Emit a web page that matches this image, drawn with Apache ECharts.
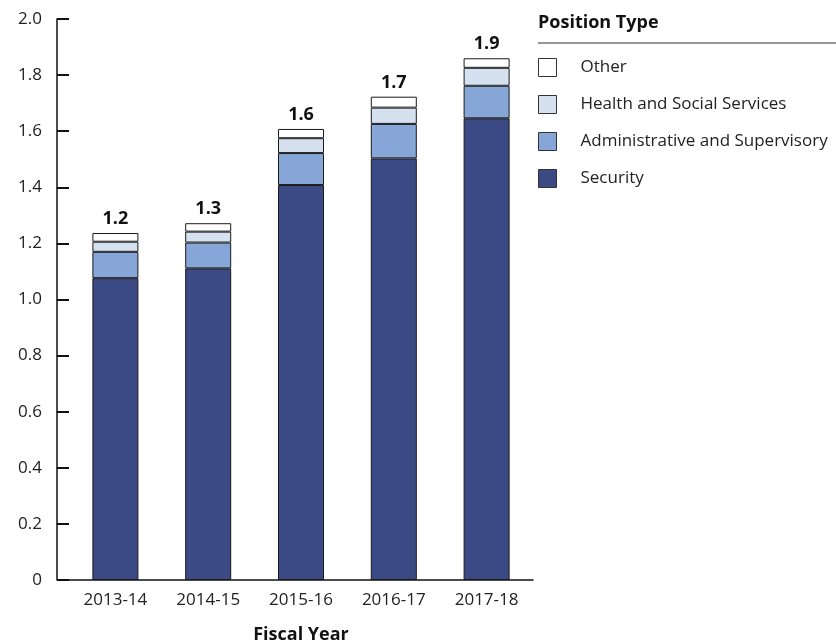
<!DOCTYPE html>
<html>
<head>
<meta charset="utf-8">
<script src="https://cdn.jsdelivr.net/npm/echarts@6/dist/echarts.min.js"></script>
<style>html,body{margin:0;padding:0;background:#fff}#c{width:836px;height:644px}</style>
</head>
<body>
<div id="c"></div>
<script>
const categories = ['2013-14', '2014-15', '2015-16', '2016-17', '2017-18'];
const security = [1.076, 1.111, 1.408, 1.503, 1.646];
const administrative = [0.094, 0.092, 0.114, 0.123, 0.116];
const health = [0.036, 0.039, 0.053, 0.058, 0.064];
const other = [0.031, 0.030, 0.033, 0.039, 0.034];
const totalLabels = ['1.2', '1.3', '1.6', '1.7', '1.9'];

const FONT = 'Open Sans';
const chart = echarts.init(document.getElementById('c'), null, {renderer: 'canvas'});
const border = {borderColor: '#1a1a1a', borderWidth: 1};
function mk(name, data, color, extra) {
  return Object.assign({
    name: name, type: 'bar', stack: 'total', data: data, barWidth: 46,
    itemStyle: Object.assign({color: color}, border),
    emphasis: {disabled: true}
  }, extra || {});
}
chart.setOption({
  animation: false,
  textStyle: {fontFamily: FONT},
  title: {
    text: 'Position Type', left: 538, top: 14, padding: 0,
    textStyle: {fontFamily: FONT, fontWeight: 'bold', fontSize: 18, color: '#111'}
  },
  graphic: [
    {type: 'line', shape: {x1: 538, y1: 43, x2: 836, y2: 43}, style: {stroke: '#333', lineWidth: 1}},
    {type: 'line', shape: {x1: 57, y1: 580, x2: 69, y2: 580}, style: {stroke: '#111', lineWidth: 1.5}}
  ],
  legend: {
    orient: 'vertical', left: 538, top: 58, padding: 0,
    itemWidth: 18, itemHeight: 18, itemGap: 18,
    icon: 'rect',
    data: ['Other', 'Health and Social Services', 'Administrative and Supervisory', 'Security'],
    itemStyle: {borderColor: '#333', borderWidth: 1},
    textStyle: {fontFamily: FONT, fontSize: 17, color: '#222', padding: [0, 0, 0, 19]},
    selectedMode: false
  },
  grid: {left: 69, top: 19, width: 464, height: 561, containLabel: false, outerBoundsMode: 'none'},
  xAxis: {
    type: 'category', data: categories,
    axisLine: {lineStyle: {color: '#111', width: 1.5}},
    axisTick: {show: false},
    axisLabel: {fontFamily: FONT, fontSize: 17, color: '#222', margin: 12},
    name: 'Fiscal Year', nameLocation: 'middle', nameGap: 46,
    nameTextStyle: {fontFamily: FONT, fontWeight: 'bold', fontSize: 18, color: '#111'}
  },
  yAxis: {
    type: 'value', min: 0, max: 2.0, interval: 0.2, offset: 12,
    axisLine: {show: true, lineStyle: {color: '#111', width: 1.5}},
    axisTick: {show: true, inside: true, length: 12, lineStyle: {color: '#111', width: 2}},
    splitLine: {show: false},
    axisLabel: {
      fontFamily: FONT, fontSize: 17, color: '#222', margin: 15,
      formatter: function (v) { return v === 0 ? '0' : v.toFixed(1); }
    }
  },
  series: [
    mk('Security', security, '#3b4a84'),
    mk('Administrative and Supervisory', administrative, '#85a6d6'),
    mk('Health and Social Services', health, '#d5e1ef'),
    mk('Other', other, '#ffffff', {
      label: {
        show: true, position: 'top', distance: 5,
        formatter: function (p) { return totalLabels[p.dataIndex]; },
        fontFamily: FONT, fontWeight: 'bold', fontSize: 18, color: '#111'
      }
    })
  ]
});
</script>
</body>
</html>
